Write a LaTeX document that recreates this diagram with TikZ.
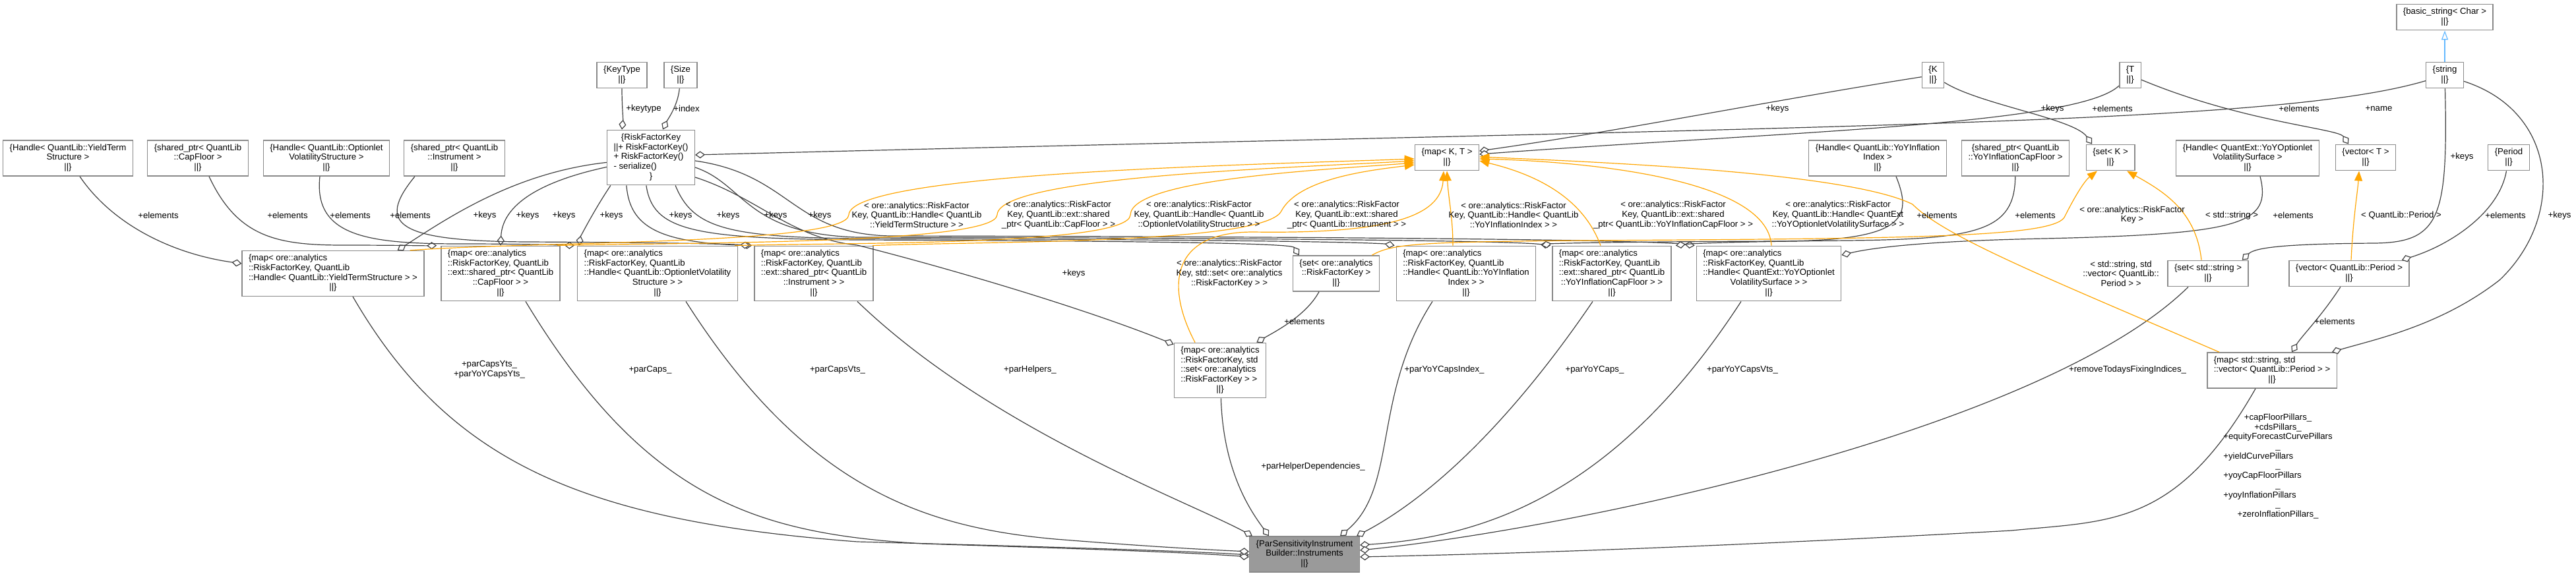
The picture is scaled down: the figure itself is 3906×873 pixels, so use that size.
\documentclass[tikz,border=0pt]{standalone}
\usepackage{fontspec}
\setmainfont{Liberation Sans}
\usetikzlibrary{arrows.meta}
\definecolor{nEdge}{HTML}{404040}
\definecolor{nBox}{HTML}{8A8A8A}
\definecolor{nTmpl}{HTML}{FFA500}
\definecolor{nInh}{HTML}{63B8FF}
\definecolor{nMain}{HTML}{9A9A9A}
\newcommand{\dfont}{\fontsize{13.2}{14.7}\selectfont}
\newcommand{\lrow}[1]{\begin{tabular}{@{}l@{}}#1\end{tabular}}
\newcommand{\crow}[1]{\begin{tabular}{@{}c@{}}#1\end{tabular}}
\newcommand{\mc}[1]{\multicolumn{1}{@{}c@{}}{#1}}

\begin{document}
\begin{tikzpicture}[x=1pt, y=-1pt,
    cls/.style={draw=nBox, line width=1.4pt, fill=white, inner xsep=10pt, inner ysep=5pt, font=\dfont},
    mainCls/.style={cls, fill=nMain},
    mem/.style={draw=nEdge, line width=1.2pt, -{Diamond[fill=white, length=15pt, width=11pt]}},
    tmpl/.style={draw=nTmpl, line width=1.2pt, -{Triangle[length=15pt, width=12pt]}},
    inh/.style={draw=nInh, line width=1.2pt, -{Triangle[fill=white, length=14pt, width=10pt]}},
    lbl/.style={font=\dfont, align=center, inner sep=0pt}]
  \useasboundingbox (0,0) rectangle (3906,873);

  % classes, top rows
  \node[cls] (basicStr) at (3707,26) {\crow{\{basic\_string< Char >\\||\}}};
  \node[cls] (strT) at (3707,114) {\crow{\{string\\||\}}};
  \node[cls] (keyType) at (943,114) {\crow{\{KeyType\\||\}}};
  \node[cls] (sizeT) at (1032,114) {\crow{\{Size\\||\}}};
  \node[cls] (kType) at (2931,114) {\crow{\{K\\||\}}};
  \node[cls] (tType) at (3230,114) {\crow{\{T\\||\}}};
  \node[cls] (rfKey) at (987,239) {\lrow{\mc{\{RiskFactorKey}\\||+ RiskFactorKey()\\+ RiskFactorKey()\\- serialize()\\\mc{\}}}};
  \node[cls] (hYts) at (103,240) {\crow{\{Handle< QuantLib::YieldTerm\\Structure >\\||\}}};
  \node[cls] (sCapFl) at (300,240) {\crow{\{shared\_ptr< QuantLib\\::CapFloor >\\||\}}};
  \node[cls] (hOptVol) at (495,240) {\crow{\{Handle< QuantLib::Optionlet\\VolatilityStructure >\\||\}}};
  \node[cls] (sInstr) at (689,240) {\crow{\{shared\_ptr< QuantLib\\::Instrument >\\||\}}};
  \node[cls] (mapKT) at (2194,239) {\crow{\{map< K, T >\\||\}}};
  \node[cls] (hYoYIdx) at (2847,240) {\crow{\{Handle< QuantLib::YoYInflation\\Index >\\||\}}};
  \node[cls] (sYoYCf) at (3056,240) {\crow{\{shared\_ptr< QuantLib\\::YoYInflationCapFloor >\\||\}}};
  \node[cls] (setK) at (3200,239) {\crow{\{set< K >\\||\}}};
  \node[cls] (hYoYVol) at (3408,240) {\crow{\{Handle< QuantExt::YoYOptionlet\\VolatilitySurface >\\||\}}};
  \node[cls] (vecT) at (3587,239) {\crow{\{vector< T >\\||\}}};
  \node[cls] (periodT) at (3804,239) {\crow{\{Period\\||\}}};

  % containers
  \node[cls] (mYts) at (505,415) {\lrow{\{map< ore::analytics\\::RiskFactorKey, QuantLib\\::Handle< QuantLib::YieldTermStructure > >\\\mc{||\}}}};
  \node[cls] (mCapFl) at (759,415) {\lrow{\{map< ore::analytics\\::RiskFactorKey, QuantLib\\::ext::shared\_ptr< QuantLib\\\mc{::CapFloor > >}\\\mc{||\}}}};
  \node[cls] (mOptVol) at (997,415) {\lrow{\{map< ore::analytics\\::RiskFactorKey, QuantLib\\::Handle< QuantLib::OptionletVolatility\\\mc{Structure > >}\\\mc{||\}}}};
  \node[cls] (mInstr) at (1234,415) {\lrow{\{map< ore::analytics\\::RiskFactorKey, QuantLib\\::ext::shared\_ptr< QuantLib\\\mc{::Instrument > >}\\\mc{||\}}}};
  \node[cls] (setRfk) at (2026,415) {\lrow{\{set< ore::analytics\\\mc{::RiskFactorKey >}\\\mc{||\}}}};
  \node[cls] (mYoYIdx) at (2223,415) {\lrow{\{map< ore::analytics\\::RiskFactorKey, QuantLib\\::Handle< QuantLib::YoYInflation\\\mc{Index > >}\\\mc{||\}}}};
  \node[cls] (mYoYCf) at (2444,415) {\lrow{\{map< ore::analytics\\::RiskFactorKey, QuantLib\\::ext::shared\_ptr< QuantLib\\\mc{::YoYInflationCapFloor > >}\\\mc{||\}}}};
  \node[cls] (mYoYVol) at (2682,415) {\lrow{\{map< ore::analytics\\::RiskFactorKey, QuantLib\\::Handle< QuantExt::YoYOptionlet\\\mc{VolatilitySurface > >}\\\mc{||\}}}};
  \node[cls] (setStr) at (3348,415) {\crow{\{set< std::string >\\||\}}};
  \node[cls] (vecPer) at (3562,415) {\crow{\{vector< QuantLib::Period >\\||\}}};
  \node[cls] (mRfkSet) at (1850,562) {\lrow{\{map< ore::analytics\\::RiskFactorKey, std\\::set< ore::analytics\\::RiskFactorKey > >\\\mc{||\}}}};
  \node[cls] (mStrVec) at (3445,562) {\lrow{\{map< std::string, std\\::vector< QuantLib::Period > >\\\mc{||\}}}};
  \node[mainCls] (instr) at (1978,841) {\crow{\{ParSensitivityInstrument\\Builder::Instruments\\||\}}};

  % inheritance
  \draw[inh] (strT) -- (basicStr);

  % members, diamond at the owner
  \draw[mem] (keyType) .. controls (943,160) and (945,180) .. (keyType.south |- rfKey.north);
  \draw[mem] (sizeT) .. controls (1028,160) and (1012,182) .. ([xshift=18pt]rfKey.north);
  \draw[mem] (kType) .. controls (2700,150) and (2450,200) .. ([yshift=10pt]mapKT.east);
  \draw[mem] (kType) .. controls (3000,158) and (3145,180) .. ([xshift=-28pt]setK.north);
  \draw[mem] (tType) .. controls (3150,190) and (2700,200) .. ([yshift=5pt]mapKT.east);
  \draw[mem] (tType) .. controls (3400,185) and (3545,195) .. ([xshift=-26pt]vecT.north);
  \draw[mem] (strT) .. controls (3450,190) and (2800,190) .. ([yshift=4pt]rfKey.east);
  \draw[mem] (strT) .. controls (3712,330) and (3700,368) .. (3600,369) .. controls (3470,370) and (3420,375) .. ([xshift=-10pt]setStr.north east);
  \draw[mem] (strT) .. controls (3880,170) and (3890,330) .. (3790,425) .. controls (3700,495) and (3600,515) .. ([xshift=-8pt]mStrVec.north east);
  \draw[mem] (periodT) .. controls (3790,320) and (3720,370) .. ([xshift=-12pt]vecPer.north east);
  \draw[mem] (vecPer) .. controls (3520,480) and (3490,510) .. ([xshift=30pt]mStrVec.north);

  \draw[mem] (rfKey) .. controls (780,262) and (680,330) .. ([xshift=-41pt]mYts.north east);
  \draw[mem] (rfKey) .. controls (820,275) and (762,310) .. (mCapFl.north);
  \draw[mem] ([xshift=6pt]rfKey.south west) .. controls (900,320) and (880,360) .. ([xshift=3pt]mOptVol.north west);
  \draw[mem] ([xshift=30pt]rfKey.south west) .. controls (955,345) and (1000,368) .. ([xshift=-3pt]mInstr.north west);
  \draw[mem] ([xshift=60pt]rfKey.south west) .. controls (990,350) and (1050,362) .. (1300,364) .. controls (1900,366) and (1960,372) .. ([xshift=10pt]setRfk.north west);
  \draw[mem] ([xshift=-30pt]rfKey.south east) .. controls (1050,345) and (1100,360) .. (1300,362) .. controls (2050,364) and (2100,370) .. ([xshift=-2pt]mYoYIdx.north west);
  \draw[mem] ([yshift=-15pt]rfKey.east) .. controls (1130,280) and (1130,355) .. (1300,360) .. controls (2300,362) and (2330,370) .. ([xshift=-2pt]mYoYCf.north west);
  \draw[mem] ([yshift=-5pt]rfKey.east) .. controls (1200,265) and (1200,355) .. (1350,358) .. controls (2500,360) and (2550,370) .. ([xshift=-2pt]mYoYVol.north west);
  \draw[mem] ([yshift=-30pt]rfKey.east) .. controls (1150,300) and (1200,362) .. (1300,372) .. controls (1450,410) and (1650,470) .. ([yshift=-3pt]mRfkSet.north west);

  \draw[mem] ([xshift=18pt]hYts.south) .. controls (170,340) and (260,385) .. ([yshift=15pt]mYts.west);
  \draw[mem] ([xshift=17pt]sCapFl.south) .. controls (360,360) and (420,372) .. (520,372) .. controls (600,372) and (640,373) .. ([xshift=-6pt]mCapFl.north west);
  \draw[mem] ([xshift=-10pt]hOptVol.south) .. controls (475,360) and (560,370) .. (700,370) .. controls (800,370) and (850,372) .. ([xshift=-4pt]mOptVol.north west);
  \draw[mem] ([xshift=-60pt]sInstr.south) .. controls (570,340) and (600,366) .. (800,367) .. controls (1000,368) and (1100,370) .. ([xshift=-6pt]mInstr.north west);
  \draw[mem] ([xshift=28pt]hYoYIdx.south) .. controls (2900,330) and (2890,365) .. (2700,366) .. controls (2400,367) and (2350,370) .. ([xshift=8pt]mYoYIdx.north east);
  \draw[mem] (sYoYCf) .. controls (3055,350) and (3000,363) .. (2800,365) .. controls (2600,367) and (2560,370) .. ([xshift=6pt]mYoYCf.north east);
  \draw[mem] ([xshift=19pt]hYoYVol.south) .. controls (3445,340) and (3400,355) .. (3100,362) .. controls (2900,366) and (2830,378) .. ([yshift=28pt]mYoYVol.east);
  \draw[mem] ([xshift=-26pt]setRfk.south) .. controls (1980,480) and (1930,505) .. ([xshift=-15pt]mRfkSet.north east);

  \draw[mem] ([xshift=30pt]mYts.south) .. controls (680,700) and (880,790) .. (1300,822) .. controls (1600,830) and (1800,836) .. ([yshift=-1pt]instr.west);
  \draw[mem] ([xshift=38pt]mCapFl.south) .. controls (980,760) and (1150,810) .. (1400,825) .. controls (1650,833) and (1800,838) .. ([yshift=-4pt]instr.west);
  \draw[mem] ([xshift=43pt]mOptVol.south) .. controls (1220,740) and (1400,800) .. (1600,818) .. controls (1750,830) and (1830,834) .. ([yshift=4pt]instr.west);
  \draw[mem] ([xshift=66pt]mInstr.south) .. controls (1500,650) and (1800,760) .. ([xshift=5pt]instr.north west);
  \draw[mem] (mRfkSet) .. controls (1855,720) and (1900,780) .. ([xshift=30pt]instr.north west);
  \draw[mem] ([xshift=-51pt]mYoYIdx.south) .. controls (2080,600) and (2120,740) .. ([xshift=-30pt]instr.north east);
  \draw[mem] ([xshift=-29pt]mYoYCf.south) .. controls (2250,700) and (2120,780) .. ([xshift=-5pt]instr.north east);
  \draw[mem] ([xshift=-42pt]mYoYVol.south) .. controls (2450,750) and (2250,815) .. ([yshift=14pt]instr.east);
  \draw[mem] ([xshift=-30pt]setStr.south) .. controls (3100,650) and (2400,800) .. ([yshift=6pt]instr.east);
  \draw[mem] ([xshift=-25pt]mStrVec.south) .. controls (3300,800) and (3200,790) .. (3050,805) .. controls (2600,830) and (2300,840) .. ([yshift=-4pt]instr.east);

  % template instances
  \draw[tmpl] ([xshift=-22pt]mYts.north east) .. controls (800,366) and (1285,372) .. (1287,326) .. controls (1290,262) and (1900,250) .. ([yshift=-2pt]mapKT.west);
  \draw[tmpl] ([xshift=-5pt]mCapFl.north east) .. controls (1000,368) and (1510,372) .. (1512,326) .. controls (1514,268) and (1950,255) .. ([yshift=-5pt]mapKT.west);
  \draw[tmpl] ([xshift=-5pt]mOptVol.north east) .. controls (1300,368) and (1712,372) .. (1714,326) .. controls (1716,272) and (2000,258) .. ([yshift=-8pt]mapKT.west);
  \draw[tmpl] ([xshift=-2pt]mInstr.north east) .. controls (1500,366) and (1920,370) .. (1943,320) .. controls (1970,270) and (2080,258) .. ([yshift=-11pt]mapKT.west);
  \draw[tmpl] ([xshift=-38pt]mRfkSet.north) .. controls (1770,440) and (1770,352) .. (1900,352) .. controls (2100,355) and (2185,330) .. ([xshift=-5pt]mapKT.south);
  \draw[tmpl] ([xshift=-20pt]mYoYIdx.north) .. controls (2203,330) and (2196,300) .. (mapKT.south);
  \draw[tmpl] ([xshift=-17pt]mYoYCf.north) .. controls (2400,300) and (2330,265) .. ([yshift=-5pt]mapKT.east);
  \draw[tmpl] ([xshift=4pt]mYoYVol.north) .. controls (2680,270) and (2400,245) .. ([yshift=-2pt]mapKT.east);
  \draw[tmpl] ([xshift=-80pt]mStrVec.north) .. controls (3100,420) and (2950,360) .. (2900,310) .. controls (2800,260) and (2400,245) .. ([yshift=1pt]mapKT.east);
  \draw[tmpl] ([xshift=-12pt]setRfk.north east) .. controls (2110,370) and (2150,367) .. (2400,365) .. controls (2900,362) and (3110,360) .. (3130,330) .. controls (3145,300) and (3160,275) .. ([xshift=-20pt]setK.south);
  \draw[tmpl] ([xshift=-10pt]setStr.north) .. controls (3330,320) and (3280,290) .. ([xshift=25pt]setK.south);
  \draw[tmpl] ([xshift=3pt]vecPer.north) .. controls (3568,330) and (3575,290) .. ([xshift=-10pt]vecT.south);

  % edge labels
  \node[lbl] (lKeytype) at (976,165) {+keytype};
  \node[lbl] (lIndex) at (1041,165) {+index};
  \node[lbl] (lKeysKT) at (2695,165) {+keys};
  \node[lbl] (lKeysK) at (3112,165) {+keys};
  \node[lbl] (lElemKT) at (3203,165) {+elements};
  \node[lbl] (lElemT) at (3486,165) {+elements};
  \node[lbl] (lName) at (3607,165) {+name};
  \node[lbl] (lKeysStr) at (3733,238) {+keys};
  \node[lbl] (lElemYts) at (240,327) {+elements};
  \node[lbl] (lElemCf) at (436,327) {+elements};
  \node[lbl] (lElemOv) at (531,327) {+elements};
  \node[lbl] (lElemIn) at (622,327) {+elements};
  \node[lbl] (lKeys1) at (735,327) {+keys};
  \node[lbl] (lKeys2) at (800,327) {+keys};
  \node[lbl] (lKeys3) at (855,327) {+keys};
  \node[lbl] (lKeys4) at (927,327) {+keys};
  \node[lbl] (lKeys5) at (1032,327) {+keys};
  \node[lbl] (lKeys6) at (1104,327) {+keys};
  \node[lbl] (lKeys7) at (1176,327) {+keys};
  \node[lbl] (lKeys8) at (1243,327) {+keys};
  \node[lbl] (lKeys9) at (1628,415) {+keys};
  \node[lbl] (tYts) at (1390,326) {< ore::analytics::RiskFactor\\Key, QuantLib::Handle< QuantLib\\::YieldTermStructure > >};
  \node[lbl] (tCf) at (1605,326) {< ore::analytics::RiskFactor\\Key, QuantLib::ext::shared\\\_ptr< QuantLib::CapFloor > >};
  \node[lbl] (tOv) at (1818,326) {< ore::analytics::RiskFactor\\Key, QuantLib::Handle< QuantLib\\::OptionletVolatilityStructure > >};
  \node[lbl] (tIn) at (2042,326) {< ore::analytics::RiskFactor\\Key, QuantLib::ext::shared\\\_ptr< QuantLib::Instrument > >};
  \node[lbl] (tRs) at (1864,415) {< ore::analytics::RiskFactor\\Key, std::set< ore::analytics\\::RiskFactorKey > >};
  \node[lbl] (tYi) at (2295,326) {< ore::analytics::RiskFactor\\Key, QuantLib::Handle< QuantLib\\::YoYInflationIndex > >};
  \node[lbl] (tYc) at (2537,326) {< ore::analytics::RiskFactor\\Key, QuantLib::ext::shared\\\_ptr< QuantLib::YoYInflationCapFloor > >};
  \node[lbl] (tYv) at (2787,326) {< ore::analytics::RiskFactor\\Key, QuantLib::Handle< QuantExt\\::YoYOptionletVolatilitySurface > >};
  \node[lbl] (lElemYi) at (2937,327) {+elements};
  \node[lbl] (lElemYc) at (3086,327) {+elements};
  \node[lbl] (tSetK) at (3233,326) {< ore::analytics::RiskFactor\\Key >};
  \node[lbl] (tSetStr) at (3384,327) {< std::string >};
  \node[lbl] (lElemYv) at (3477,327) {+elements};
  \node[lbl] (tVecT) at (3641,327) {< QuantLib::Period >};
  \node[lbl] (lElemPer) at (3799,327) {+elements};
  \node[lbl] (lKeysSv) at (3881,327) {+keys};
  \node[lbl] (tSv) at (3216,415) {< std::string, std\\::vector< QuantLib::\\Period > >};
  \node[lbl] (lElemRs) at (1978,488) {+elements};
  \node[lbl] (lElemSv) at (3540,488) {+elements};
  \node[lbl] (lParYts) at (742,561) {+parCapsYts\_\\+parYoYCapsYts\_};
  \node[lbl] (lParCaps) at (986,561) {+parCaps\_};
  \node[lbl] (lParVts) at (1270,561) {+parCapsVts\_};
  \node[lbl] (lParHelp) at (1562,561) {+parHelpers\_};
  \node[lbl] (lParDep) at (1991,708) {+parHelperDependencies\_};
  \node[lbl] (lParYi) at (2190,561) {+parYoYCapsIndex\_};
  \node[lbl] (lParYc) at (2418,561) {+parYoYCaps\_};
  \node[lbl] (lParYv) at (2642,561) {+parYoYCapsVts\_};
  \node[lbl] (lRemove) at (3226,561) {+removeTodaysFixingIndices\_};
  \node[lbl] (lPillars) at (3454,708) {\crow{+capFloorPillars\_\\+cdsPillars\_\\+equityForecastCurvePillars\\\_\\\multicolumn{1}{@{}l@{}}{+yieldCurvePillars}\\\_\\\multicolumn{1}{@{}l@{}}{+yoyCapFloorPillars}\\\_\\\multicolumn{1}{@{}l@{}}{+yoyInflationPillars}\\\_\\+zeroInflationPillars\_}};
\end{tikzpicture}
\end{document}
